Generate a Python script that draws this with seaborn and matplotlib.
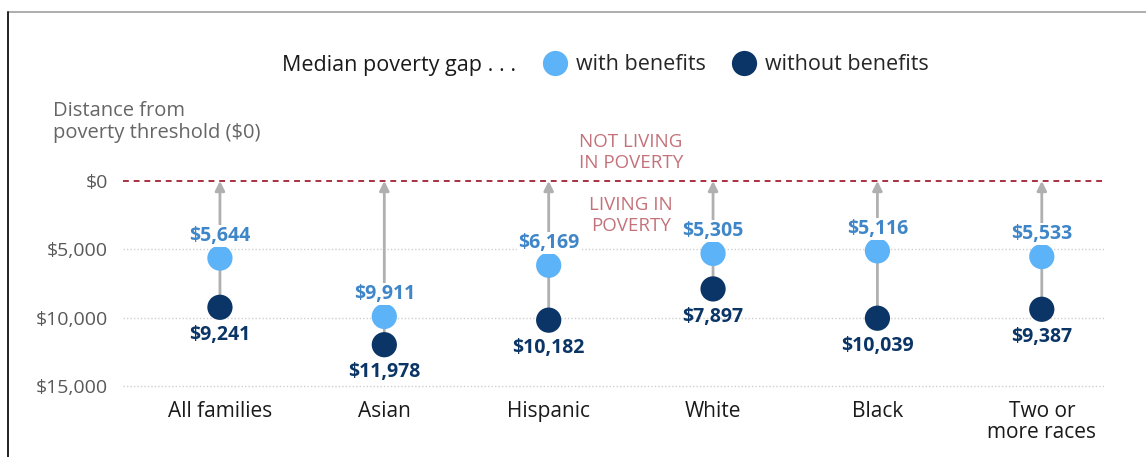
import matplotlib
matplotlib.use("Agg")
import matplotlib.pyplot as plt
from matplotlib.lines import Line2D
import seaborn as sns
import pandas as pd

groups = ["All families", "Asian", "Hispanic", "White", "Black", "Two or\nmore races"]
with_benefits = [5644, 9911, 6169, 5305, 5116, 5533]
without_benefits = [9241, 11978, 10182, 7897, 10039, 9387]
series_names = ["with benefits", "without benefits"]
yticks = [0, 5000, 10000, 15000]

light = "#5cb3f7"
dark = "#0b3566"
light_text = "#3f86c8"
red = "#a8303f"
red_text = "#c4727a"

sns.set_theme(style="white")
plt.rcParams["font.family"] = ["Open Sans", "DejaVu Sans"]

df = pd.DataFrame({
    "group": groups * 2,
    "gap": with_benefits + without_benefits,
    "type": [series_names[0]] * len(groups) + [series_names[1]] * len(groups),
})

fig = plt.figure(figsize=(11.46, 4.57), dpi=100)
ax = fig.add_axes([0.1073, 0.1466, 0.8577, 0.5252])

# arrows from the no-benefit gap up to the threshold
for i in range(len(groups)):
    ax.annotate("", xy=(i, 0), xytext=(i, without_benefits[i]),
                arrowprops=dict(arrowstyle="-|>", color="#b0b0b0", lw=2,
                                mutation_scale=14, shrinkA=0, shrinkB=0),
                zorder=2)

ax.axhline(0, color=red, ls=(0, (3, 2.5)), lw=1.4, zorder=3)

sns.scatterplot(data=df, x="group", y="gap", hue="type",
                palette={series_names[0]: light, series_names[1]: dark},
                s=330, linewidth=0, ax=ax, zorder=4, clip_on=False)

for i in range(len(groups)):
    ax.annotate(f"${with_benefits[i]:,}", (i, with_benefits[i]), xytext=(0, 16),
                textcoords="offset points", ha="center", va="center",
                fontsize=14, fontweight="bold", color=light_text, zorder=5,
                bbox=dict(boxstyle="square,pad=0.05", fc="white", ec="none"))
    ax.annotate(f"${without_benefits[i]:,}", (i, without_benefits[i]), xytext=(0, -20),
                textcoords="offset points", ha="center", va="center",
                fontsize=14, fontweight="bold", color=dark, zorder=5)

ax.set_xlim(-0.59, 5.39)
ax.set_ylim(15290, -2263)
ax.set_yticks(yticks)
ax.set_yticklabels([f"${v:,}" for v in yticks])
ax.set_xlabel("")
ax.set_ylabel("")
ax.tick_params(axis="y", length=0, pad=11, labelsize=14, labelcolor="#595959")
ax.tick_params(axis="x", length=0, pad=8, labelsize=15, labelcolor="#1a1a1a")
for lbl in ax.get_xticklabels():
    lbl.set_linespacing(1.0)
for s in ax.spines.values():
    s.set_visible(False)
for v in yticks[1:]:
    ax.axhline(v, color="#cfcfcf", ls=(0, (1, 1.5)), lw=1, zorder=1)

ax.text(2.5, -2050, "NOT LIVING\nIN POVERTY", ha="center", va="center",
        fontsize=13.5, color=red_text, linespacing=1.2)
ax.text(2.5, 2520, "LIVING IN\nPOVERTY", ha="center", va="center",
        fontsize=13.5, color=red_text, linespacing=1.2)

fig.text(53 / 1146, 1 - 122 / 457, "Distance from\npoverty threshold ($0)",
         ha="left", va="center", fontsize=14.5, color="#666666", linespacing=1.15)

sns.move_legend(ax, "center", bbox_to_anchor=(731 / 1146, 1 - 65 / 457),
                bbox_transform=fig.transFigure, ncol=2, title=None, frameon=False,
                fontsize=15.5, handletextpad=0.0, columnspacing=0.75, markerscale=1.0)
fig.text(516 / 1146, 1 - 65 / 457, "Median poverty gap . . .", ha="right", va="center",
         fontsize=15.5, color="#1a1a1a")

# frame edges from the source image
fig.add_artist(Line2D([8 / 1146, 1], [1 - 12 / 457, 1 - 12 / 457], color="#a0a0a0", lw=1.2))
fig.add_artist(Line2D([8 / 1146, 8 / 1146], [0, 1 - 12 / 457], color="#222222", lw=1.4))

fig.savefig("out.png", dpi=100)
